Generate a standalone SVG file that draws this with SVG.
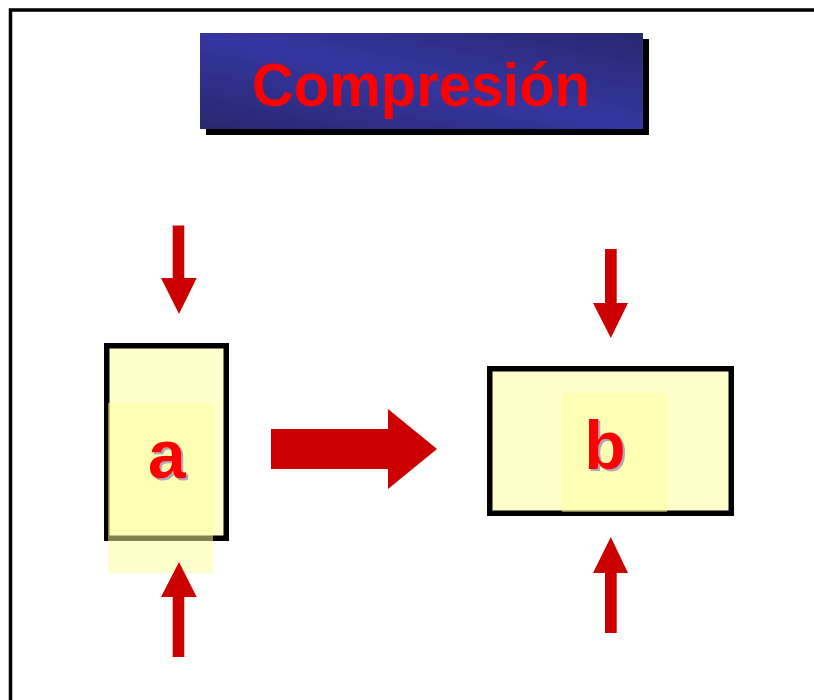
<svg xmlns="http://www.w3.org/2000/svg" width="814" height="700" viewBox="0 0 814 700">
<defs>
<linearGradient id="tg" x1="0" y1="1" x2="1" y2="0">
<stop offset="0" stop-color="#28286f"/>
<stop offset="0.5" stop-color="#3535a0"/>
<stop offset="1" stop-color="#28286f"/>
</linearGradient>
<filter id="ds" x="-20%" y="-20%" width="140%" height="140%">
<feDropShadow dx="2" dy="2" stdDeviation="0.3" flood-color="#a8a8b8" flood-opacity="1"/>
</filter>
<style>
.arrow{fill:#cc0000}
.box{fill:#ffffcc;stroke:#000;stroke-width:5.5}
.hl{fill:#ffff99;fill-opacity:0.5}
.lbl{font-family:"Liberation Sans",Arial,sans-serif;font-weight:bold;font-size:68px;text-anchor:middle;fill:#ff0000;filter:url(#ds)}
</style>
</defs>
<rect width="814" height="700" fill="#fff"/>
<rect x="10.5" y="10" width="900" height="900" fill="none" stroke="#000" stroke-width="3.5"/>
<g id="title">
<rect x="206" y="39" width="443" height="96" fill="#000"/>
<rect x="200" y="33" width="443" height="96" fill="url(#tg)"/>
<text x="421" y="106" font-family="Liberation Sans, Arial, sans-serif" font-weight="bold" font-size="61" fill="#ff0000" text-anchor="middle" textLength="338" lengthAdjust="spacingAndGlyphs">Compresión</text>
</g>
<g id="node-a">
<rect class="box" x="106.75" y="345.75" width="119.5" height="192.5"/>
<rect class="hl" x="108" y="403" width="105" height="170"/>
<text class="lbl" x="167" y="478">a</text>
</g>
<g id="node-b">
<rect class="box" x="489.75" y="368.75" width="241.5" height="144.5"/>
<rect class="hl" x="562" y="393" width="105" height="119"/>
<text class="lbl" x="605" y="469">b</text>
</g>
<g id="connectors">
<polygon class="arrow" points="172.7,225.5 184.3,225.5 184.3,278 196.7,278 179,314 161,278 172.7,278"/>
<polygon class="arrow" points="172.7,657 184.3,657 184.3,597 196.7,597 179,562 161,597 172.7,597"/>
<polygon class="arrow" points="605,249 616.7,249 616.7,303 628,303 610.8,338 593,303 605,303"/>
<polygon class="arrow" points="605,633 616.7,633 616.7,573 628,573 610.8,537 593,573 605,573"/>
<polygon class="arrow" points="271,429 388,429 388,409 437,449 388,489 388,469 271,469"/>
</g>
</svg>
